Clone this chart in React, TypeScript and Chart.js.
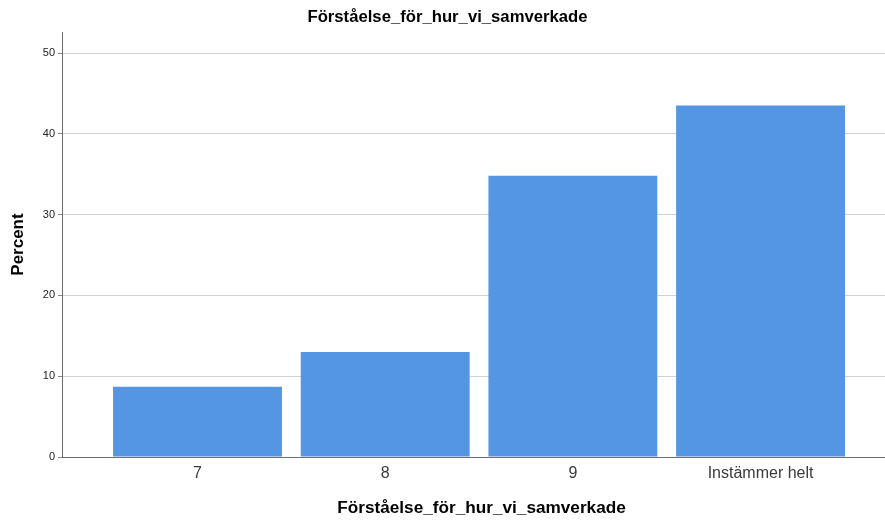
import React, { useEffect, useRef } from "react";
import { Chart, registerables } from "chart.js";

Chart.register(...registerables);

const categories: string[] = ["7", "8", "9", "Instämmer helt"];
const percents: number[] = [8.7, 13.0, 34.8, 43.5];
const yTicks: number[] = [0, 10, 20, 30, 40, 50];
const chartTitle = "Förståelse_för_hur_vi_samverkade";
const xTitle = "Förståelse_för_hur_vi_samverkade";
const yTitle = "Percent";

const FONT = "'Liberation Sans', Arial, sans-serif";

const xTitlePlugin = {
  id: "xTitlePlugin",
  afterDraw(chart: any) {
    const { ctx, chartArea } = chart;
    ctx.save();
    ctx.font = `bold 17.2px ${FONT}`;
    ctx.fillStyle = "#000";
    ctx.textAlign = "center";
    ctx.textBaseline = "middle";
    const cx = (chartArea.left + chartArea.right) / 2 + 8;
    ctx.fillText(xTitle, cx, chart.height - 12);
    ctx.restore();
  },
};

export default function App() {
  const ref = useRef<HTMLCanvasElement | null>(null);

  useEffect(() => {
    if (!ref.current) return;
    const chart = new Chart(ref.current, {
      type: "bar",
      data: {
        datasets: [
          {
            data: percents.map((v, i) => ({ x: i, y: v })),
            backgroundColor: "#5596e3",
            borderColor: "#5596e3",
            borderWidth: 0,
            barPercentage: 0.9,
            categoryPercentage: 1,
          },
        ],
      },
      options: {
        animation: false,
        responsive: false,
        maintainAspectRatio: false,
        layout: { padding: { left: -6, right: -16, top: 0, bottom: 0 } },
        plugins: {
          legend: { display: false },
          tooltip: { enabled: false },
          title: {
            display: true,
            text: chartTitle,
            color: "#000",
            font: { family: FONT, size: 16.7, weight: "bold" },
            padding: { top: 7, bottom: 5 },
          },
        },
        scales: {
          x: {
            type: "linear",
            offset: false,
            min: -0.722,
            max: 3.663,
            afterBuildTicks: (scale: any) => {
              scale.ticks = categories.map((_, i) => ({ value: i }));
            },
            afterFit: (scale: any) => {
              scale.height = 63;
            },
            ticks: {
              callback: (v: any) => categories[Math.round(Number(v))] ?? "",
              color: "#3a3a3a",
              font: { family: FONT, size: 16 },
              padding: 7,
              maxRotation: 0,
              autoSkip: false,
            },
            grid: { display: false, drawTicks: false },
            border: { display: true, color: "#6e6e6e", width: 1 },
            title: { display: false, text: xTitle },
          },
          y: {
            type: "linear",
            min: 0,
            max: 52.6,
            afterBuildTicks: (scale: any) => {
              scale.ticks = yTicks.map((v) => ({ value: v }));
            },
            afterFit: (scale: any) => {
              scale.width = 68;
            },
            ticks: {
              color: "#222",
              font: { family: FONT, size: 11 },
              padding: 3,
            },
            grid: {
              color: "#d2d2d2",
              lineWidth: 1,
              tickLength: 4,
              tickColor: "#8a8a8a",
            },
            border: { display: true, color: "#6e6e6e", width: 1 },
            title: {
              display: true,
              text: yTitle,
              color: "#000",
              font: { family: FONT, size: 17, weight: "bold" },
              padding: { top: 14.6, bottom: 0 },
            },
          },
        },
      },
      plugins: [xTitlePlugin],
    });
    return () => chart.destroy();
  }, []);

  return (
    <div style={{ position: "fixed", left: 0, top: 0, width: 885, height: 520, background: "#fff" }}>
      <canvas ref={ref} width={885} height={520} style={{ width: 885, height: 520 }} />
    </div>
  );
}
